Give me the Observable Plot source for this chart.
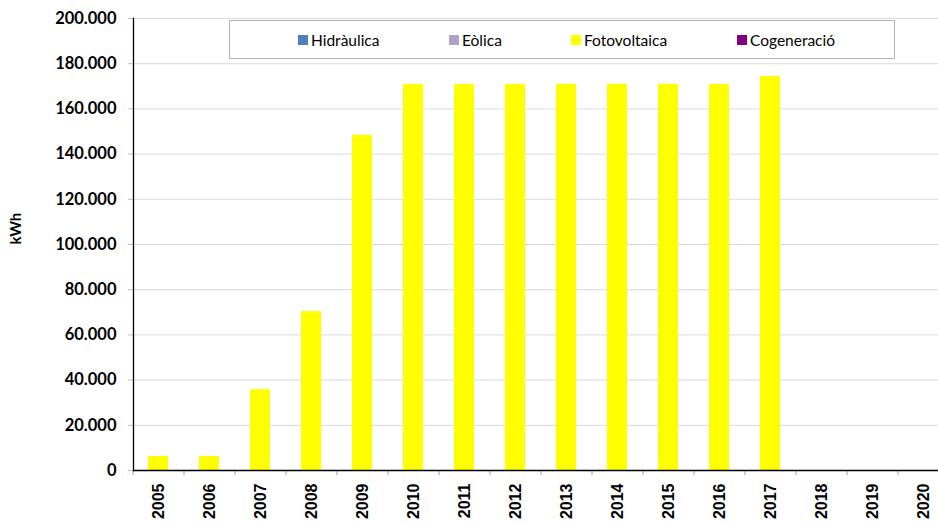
<!DOCTYPE html>
<html>
<head>
<meta charset="utf-8">
<script src="https://cdn.jsdelivr.net/npm/d3@7"></script>
<script src="https://cdn.jsdelivr.net/npm/@observablehq/plot@0.6"></script>
<style>
  html, body { margin: 0; padding: 0; background: #fff; }
  #wrap { position: relative; width: 938px; height: 523px; overflow: hidden; }
  #legend { position: absolute; left: 229px; top: 20px; width: 666px; height: 39px;
    border: 1px solid #b4b4b4; background: #fff; box-sizing: border-box;
    font-family: Lato, "Open Sans", sans-serif; font-size: 15.5px; color: #000; }
  .item { position: absolute; top: 0; height: 37px; display: flex; align-items: center; white-space: nowrap; }
  .sw { width: 10px; height: 10px; margin-right: 3px; }
</style>
</head>
<body>
<div id="wrap"></div>
<script>
const years = ["2005","2006","2007","2008","2009","2010","2011","2012","2013","2014","2015","2016","2017","2018","2019","2020"];
const seriesNames = ["Hidràulica", "Eòlica", "Fotovoltaica", "Cogeneració"];
const seriesColors = ["#4F81BD", "#B3A2C7", "#FFFF00", "#800080"];
const hidraulica   = [0,0,0,0,0,0,0,0,0,0,0,0,0,0,0,0];
const eolica       = [0,0,0,0,0,0,0,0,0,0,0,0,0,0,0,0];
const fotovoltaica = [6200, 6200, 35800, 70300, 148300, 170900, 170900, 170900, 170900, 170900, 170900, 170900, 174400, 0, 0, 0];
const cogeneracio  = [0,0,0,0,0,0,0,0,0,0,0,0,0,0,0,0];
const yTicks = [0, 20000, 40000, 60000, 80000, 100000, 120000, 140000, 160000, 180000, 200000];
const yLabel = "kWh";

const seriesValues = [hidraulica, eolica, fotovoltaica, cogeneracio];
const rows = [];
years.forEach((yr, i) => seriesNames.forEach((s, j) => rows.push({year: yr, series: s, value: seriesValues[j][i]})));

const fmt = d3.formatLocale({thousands: ".", decimal: ",", grouping: [3], currency: ["", ""]}).format(",");

const W = 938, H = 523, ML = 133, MR = -11;
const step = (W - MR - ML) / years.length;

const chart = Plot.plot({
  width: W, height: H,
  marginTop: 18, marginBottom: 53, marginLeft: ML, marginRight: MR,
  style: {background: "transparent", overflow: "visible"},
  x: {domain: years, paddingInner: 0.6, paddingOuter: 0.3, label: null},
  y: {domain: [0, 200000], label: null},
  color: {domain: seriesNames, range: seriesColors},
  marks: [
    Plot.gridY(yTicks, {stroke: "#d9d9d9", strokeOpacity: 1}),
    Plot.barY(rows, {x: "year", y: "value", fill: "series"}),
    Plot.axisY(yTicks, {tickSize: 5, tickPadding: 12, tickFormat: fmt, stroke: "#bfbfbf", fill: "#000",
      fontSize: 16.5, fontWeight: "bold", fontFamily: "Lato, sans-serif", label: null}),
    Plot.axisX(years, {tickSize: 5, dx: -step / 2, text: null, stroke: "#a0a0a0", label: null}),
    Plot.axisX(years, {tickSize: 0, tickPadding: 13, tickRotate: -90, fontSize: 16, fontWeight: "bold",
      fontFamily: "'Liberation Sans', Arial, sans-serif", fill: "#000", label: null}),
    Plot.frame({anchor: "left", stroke: "#000", strokeWidth: 1.3}),
    Plot.ruleY([0], {stroke: "#000", strokeWidth: 1.3}),
    Plot.text([yLabel], {frameAnchor: "left", dx: -117, rotate: -90, fontSize: 15, fontWeight: "bold",
      fontFamily: "Lato, sans-serif", fill: "#000"})
  ]
});

const wrap = document.getElementById("wrap");
wrap.appendChild(chart);

const legend = document.createElement("div");
legend.id = "legend";
const offsets = [68, 219, 341, 507];
seriesNames.forEach((s, i) => {
  const it = document.createElement("div");
  it.className = "item";
  it.style.left = offsets[i] + "px";
  const sw = document.createElement("span");
  sw.className = "sw";
  sw.style.background = seriesColors[i];
  const t = document.createElement("span");
  t.textContent = s;
  it.appendChild(sw); it.appendChild(t);
  legend.appendChild(it);
});
wrap.appendChild(legend);
</script>
</body>
</html>
